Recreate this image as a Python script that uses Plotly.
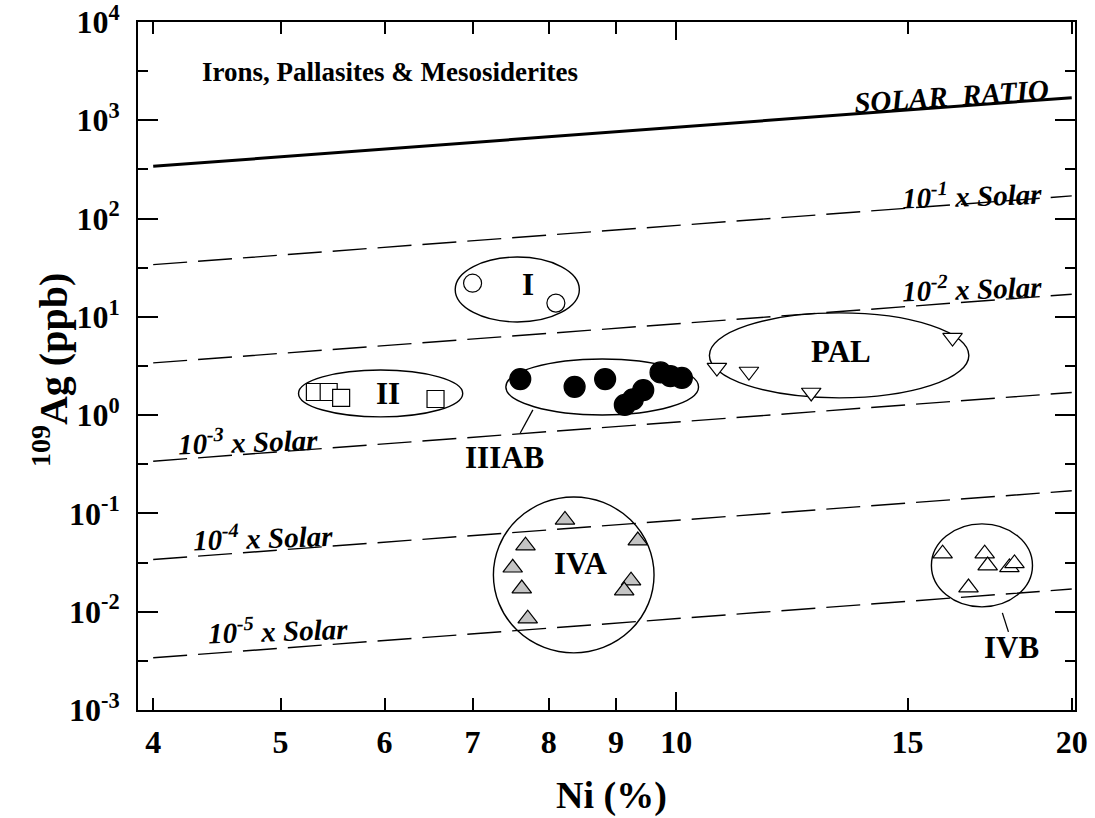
import numpy as np
import plotly.graph_objects as go

FONT = "Liberation Serif"

# ---------------- data ----------------
# Group I (open circles)
i_ni = [7.0, 8.1]
i_ag = [22.0, 13.8]
# Group II (open squares)
ii_ni = [5.31, 5.44, 5.56, 6.56]
ii_ag = [1.72, 1.72, 1.50, 1.46]
# Group IIIAB (filled circles)
iiiab_ni = [7.61, 8.37, 8.83, 9.73, 9.90, 10.1, 9.44, 9.27, 9.14]
iiiab_ag = [2.33, 1.94, 2.33, 2.72, 2.50, 2.39, 1.80, 1.45, 1.27]
# Pallasites (open down triangles)
pal_ni = [10.74, 11.36, 12.67, 16.23]
pal_ag = [3.05, 2.78, 1.70, 6.15]
# Group IVA (grey triangles)
iva_ni = [8.23, 7.68, 7.51, 7.63, 7.71, 9.35, 9.24, 9.13]
iva_ag = [0.086, 0.047, 0.028, 0.0172, 0.0085, 0.053, 0.0207, 0.0164]
# Group IVB (open triangles)
ivb_ni = [15.95, 17.17, 17.26, 17.93, 18.09, 16.69]
ivb_ag = [0.039, 0.039, 0.0295, 0.0282, 0.031, 0.0176]

# Solar Ag/Ni reference lines
solar_ag_per_ni = 85.0          # ppb Ag per % Ni
line_ni = [4, 20]
line_factors = [1, 1e-1, 1e-2, 1e-3, 1e-4, 1e-5]
line_labels = ["SOLAR  RATIO", "10<sup>-1</sup> x Solar", "10<sup>-2</sup> x Solar",
               "10<sup>-3</sup> x Solar", "10<sup>-4</sup> x Solar", "10<sup>-5</sup> x Solar"]
line_label_ni = [16.2, 16.78, 16.78, 4.72, 4.85, 4.98]
line_label_ag = [1780, 178, 20.0, 0.56, 0.059, 0.0066]
line_label_angle = [-4, -2, -2, -2, -2, -2]

# Group enclosures (ellipses): Ni range, Ag range
grp_names = ["I", "II", "IIIAB", "PAL", "IVA", "IVB"]
ell_ni0 = [6.79, 5.16, 7.42, 10.6, 7.26, 15.64]
ell_ni1 = [8.44, 6.88, 10.4, 16.7, 9.62, 18.67]
ell_ag0 = [8.87, 0.96, 1.005, 1.50, 0.00381, 0.0112]
ell_ag1 = [40.6, 2.88, 3.73, 10.97, 0.147, 0.0782]
# Group label positions
lab_ni = [7.71, 6.04, 7.40, 13.35, 8.46, 18.0]
lab_ag = [21.1, 1.68, 0.37, 4.40, 0.0313, 0.00428]
# Leader lines (IIIAB, IVB)
lead_ni = [[7.78, 7.61], [17.71, 17.90]]
lead_ag = [[1.13, 0.659], [0.00973, 0.00623]]

x_ticks = [4, 5, 6, 7, 8, 9, 10, 15, 20]
y_ticks = [1e-3, 1e-2, 1e-1, 1e0, 1e1, 1e2, 1e3, 1e4]
y_ticktext = ["10<sup>-3</sup>", "10<sup>-2</sup>", "10<sup>-1</sup>", "10<sup>0</sup>",
              "10<sup>1</sup>", "10<sup>2</sup>", "10<sup>3</sup>", "10<sup>4</sup>"]
y_minor = [10 ** (k + 0.5) for k in range(-3, 4)]

# ---------------- figure ----------------
fig = go.Figure()

for f in line_factors:
    fig.add_trace(go.Scatter(
        x=line_ni, y=[f * solar_ag_per_ni * v for v in line_ni], mode="lines",
        line=dict(color="black", width=3 if f == 1 else 1.4,
                  dash="solid" if f == 1 else "34px,11px"),
        hoverinfo="skip", showlegend=False))

for lx, ly in zip(lead_ni, lead_ag):
    fig.add_trace(go.Scatter(x=lx, y=ly, mode="lines", line=dict(color="black", width=1.3),
                             hoverinfo="skip", showlegend=False))

mk_line = dict(color="black", width=1.2)
fig.add_trace(go.Scatter(x=i_ni, y=i_ag, mode="markers", name="I",
                         marker=dict(symbol="circle", size=18, color="white", line=mk_line)))
fig.add_trace(go.Scatter(x=ii_ni, y=ii_ag, mode="markers", name="II",
                         marker=dict(symbol="square", size=17, color="white", line=mk_line)))
fig.add_trace(go.Scatter(x=iiiab_ni, y=iiiab_ag, mode="markers", name="IIIAB",
                         marker=dict(symbol="circle", size=21, color="black", line=mk_line)))
fig.add_trace(go.Scatter(x=pal_ni, y=pal_ag, mode="markers", name="PAL",
                         marker=dict(symbol="triangle-down", size=17, color="white", line=mk_line)))
fig.add_trace(go.Scatter(x=iva_ni, y=iva_ag, mode="markers", name="IVA",
                         marker=dict(symbol="triangle-up", size=17, color="#c4c4c4", line=mk_line)))
fig.add_trace(go.Scatter(x=ivb_ni, y=ivb_ag, mode="markers", name="IVB",
                         marker=dict(symbol="triangle-up", size=17, color="white", line=mk_line)))

for x0, x1, y0, y1 in zip(ell_ni0, ell_ni1, ell_ag0, ell_ag1):
    fig.add_shape(type="circle", xref="x", yref="y", x0=x0, x1=x1, y0=y0, y1=y1,
                  line=dict(color="black", width=1.4), layer="below")

ann = []
for t, x, y in zip(grp_names, lab_ni, lab_ag):
    ann.append(dict(text=t, x=np.log10(x), y=np.log10(y), xref="x", yref="y", showarrow=False,
                    xanchor="center", yanchor="middle",
                    font=dict(family=FONT, size=31, color="black", weight="bold")))
for t, x, y, a in zip(line_labels, line_label_ni, line_label_ag, line_label_angle):
    ann.append(dict(text=t, x=np.log10(x), y=np.log10(y), xref="x", yref="y", showarrow=False,
                    textangle=a, xanchor="center", yanchor="middle",
                    font=dict(family=FONT, size=29, color="black", weight="bold", style="italic")))
ann.append(dict(text="Irons, Pallasites & Mesosiderites", x=0.066, y=0.927, xref="paper", yref="paper",
                xanchor="left", yanchor="middle", showarrow=False,
                font=dict(family=FONT, size=27, color="black", weight="bold")))
ann.append(dict(text="<sup>109</sup>Ag (ppb)", x=-0.094, y=0.494, xref="paper", yref="paper",
                textangle=-90, showarrow=False, xanchor="center", yanchor="middle",
                font=dict(family=FONT, size=40, color="black", weight="bold")))
ann.append(dict(text="Ni (%)", x=0.505, y=-0.124, xref="paper", yref="paper", showarrow=False,
                xanchor="center", yanchor="middle",
                font=dict(family=FONT, size=38, color="black", weight="bold")))

xr = [0.5905, 1.3035]
fig.update_layout(
    width=1095, height=818,
    margin=dict(l=138, r=20, t=22, b=108, autoexpand=False),
    paper_bgcolor="white", plot_bgcolor="white",
    showlegend=False,
    annotations=ann,
    xaxis=dict(type="log", range=xr, tickvals=x_ticks, ticktext=[str(v) for v in x_ticks],
               ticks="inside", ticklen=12, tickwidth=1.5, tickcolor="black", automargin=False,
               showline=True, linecolor="black", linewidth=2, mirror="ticks",
               showgrid=False, zeroline=False, ticklabelstandoff=3, ticklabeloverflow="allow",
               tickfont=dict(family=FONT, size=32, color="black", weight="bold")),
    xaxis2=dict(type="log", range=xr, overlaying="x", side="bottom", tickvals=[10],
                ticks="inside", ticklen=18, tickwidth=1.5, tickcolor="black", automargin=False,
                showticklabels=False, showgrid=False, zeroline=False, showline=False,
                mirror="ticks"),
    yaxis=dict(type="log", range=[-3, 4], tickvals=y_ticks, ticktext=y_ticktext,
               ticks="inside", ticklen=20, tickwidth=1.5, tickcolor="black", automargin=False,
               minor=dict(tickvals=y_minor, ticks="inside", ticklen=10, tickwidth=1.5,
                          tickcolor="black", showgrid=False),
               showline=True, linecolor="black", linewidth=2, mirror="ticks",
               showgrid=False, zeroline=False, ticklabelstandoff=10, ticklabeloverflow="allow",
               tickfont=dict(family=FONT, size=32, color="black", weight="bold")),
)
# dummy trace so xaxis2 is drawn
fig.add_trace(go.Scatter(x=[4], y=[1], xaxis="x2", mode="markers", marker=dict(opacity=0),
                         hoverinfo="skip", showlegend=False))

fig.write_html("out.html")
